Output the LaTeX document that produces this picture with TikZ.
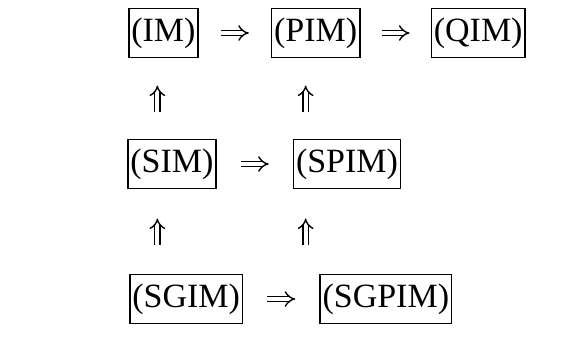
\documentclass[tikz,border=0pt]{standalone}
\usepackage{fontspec}
\setmainfont{Liberation Serif}
\usetikzlibrary{arrows.meta,calc}
\begin{document}
\begin{tikzpicture}[x=1pt,y=-1pt,
  bx/.style={draw, line width=1.6pt, inner xsep=2.5pt, inner ysep=9pt, anchor=west,
    font=\fontsize{34}{38}\selectfont},
  imp/.style={double, double distance=4pt, line width=1.4pt, -{Implies}}]
\useasboundingbox (0,0) rectangle (562,359);
% row 1
\node[bx] (im)  at (128,33) {(IM)};
\node[bx] (pim) at ($(im.east)+(72,0)$) {(PIM)};
\node[bx] (qim) at ($(pim.east)+(70,0)$) {(QIM)};
% row 2
\node[bx] (sim)  at (127,164) {(SIM)};
\node[bx] (spim) at ($(sim.east)+(76,0)$) {(SPIM)};
% row 3
\node[bx] (sgim)  at (129,299) {(SGIM)};
\node[bx] (sgpim) at ($(sgim.east)+(76,0)$) {(SGPIM)};
% arrow anchors
\coordinate (h1) at ($(im.east)!0.5!(pim.west)$);
\coordinate (h2) at ($(pim.east)!0.5!(qim.west)$);
\coordinate (h3) at ($(sim.east)!0.5!(spim.west)$);
\coordinate (h4) at ($(sgim.east)!0.5!(sgpim.west)$);
\coordinate (v1) at ($(im.south)!0.5!(im.south |- sim.north)+(-6,0)$);
\coordinate (v2) at ($(pim.south)!0.5!(pim.south |- spim.north)+(-10,0)$);
\coordinate (v3) at ($(v1 |- sim.south)!0.5!(v1 |- sgim.north)$);
\coordinate (v4) at ($(v2 |- spim.south)!0.5!(v2 |- sgpim.north)$);
\foreach \c in {h1,h2,h3,h4}
  \draw[imp] ([xshift=-14pt]\c) -- ([xshift=14pt]\c);
\foreach \c in {v1,v2,v3,v4}
  \draw[imp] ([yshift=-13pt]\c) -- ([yshift=13pt]\c);
\end{tikzpicture}
\end{document}
